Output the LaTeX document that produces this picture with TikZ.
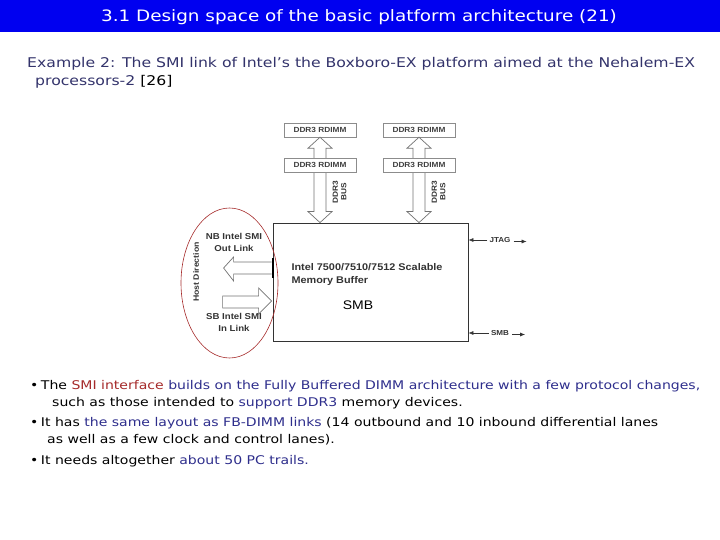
\documentclass[tikz,border=0pt]{standalone}
\usepackage{fontspec}
\setmainfont{DejaVu Sans}[FakeStretch=1.17]
\newfontfamily\arialfont{Liberation Sans}[FakeStretch=1.12]
\usepackage{xcolor}
\usepackage{tikz}
\usetikzlibrary{arrows.meta, positioning, calc}
\definecolor{titleblue}{HTML}{0000F0}
\definecolor{navytext}{HTML}{33336B}
\definecolor{linkblue}{HTML}{2E2E8C}
\definecolor{smired}{HTML}{A52A2A}
\definecolor{boxgray}{HTML}{8C8C8C}

\begin{document}
\begin{tikzpicture}[x=1pt, y=-1pt,
    dimm/.style={draw=boxgray, fill=white, minimum width=72pt, minimum height=14pt, inner sep=0pt,
        font=\arialfont\fontsize{7.4}{8}\selectfont\bfseries, text=black!75},
    hollow/.style={draw=black!55, fill=white, line width=0.7pt, line join=miter},
    diag/.style={font=\arialfont\fontsize{8.6}{12}\selectfont\bfseries, text=black!80, align=center},
    small/.style={font=\arialfont\fontsize{7.2}{8.5}\selectfont\bfseries, text=black!80, align=center},
    sig/.style={-{Latex[length=5pt, width=4pt]}, line width=0.6pt, black!80},
    body/.style={font=\fontsize{12}{14}\selectfont, anchor=west, inner sep=0pt},
]
\useasboundingbox (0,0) rectangle (720,540);

% Title bar
\fill[titleblue] (0,0) rectangle (720,32);
\node[text=white, font=\fontsize{15.7}{18}\selectfont] (title) at (359,17) {3.1 Design space of the basic platform architecture (21)};

% Example line
\node[anchor=west, inner sep=0pt, text=navytext, font=\fontsize{13.4}{18}\selectfont, align=left] (example) at (27,73)
    {Example 2: The SMI link of Intel’s the Boxboro-EX platform aimed at the Nehalem-EX\\
     \hspace*{8pt}processors-2 \textcolor{black}{[26]}};

% Memory buffer
\node[draw=black!80, line width=0.8pt, minimum width=195pt, minimum height=118pt, inner sep=0pt] (smb) at (370.5,282) {};
\node[diag, anchor=west, align=left, font=\arialfont\fontsize{9.7}{13}\selectfont\bfseries] (smbname) at (288,274)
    {Intel 7500/7510/7512 Scalable\\Memory Buffer};
\node[font=\arialfont\fontsize{12.5}{15}\selectfont] (smblabel) at (358,305) {SMB};

% DIMMs and DDR3 buses
\foreach \col/\x in {a/320, b/419} {
    \node[dimm] (dimm1\col) at (\x,130) {DDR3 RDIMM};
    \draw[hollow] let \p1=(dimm1\col.south), \p2=(smb.north) in
        (\x1,\y1) -- (\x1+12pt,\y1-11pt) -- (\x1+6pt,\y1-11pt) -- (\x1+6pt,\y2+11pt) -- (\x1+12pt,\y2+11pt)
        -- (\x1,\y2) -- (\x1-12pt,\y2+11pt) -- (\x1-6pt,\y2+11pt) -- (\x1-6pt,\y1-11pt) -- (\x1-12pt,\y1-11pt) -- cycle;
    \node[dimm] (dimm2\col) at (\x,165) {DDR3 RDIMM};
    \node[small, rotate=90, font=\arialfont\fontsize{7.4}{8.5}\selectfont\bfseries] (bus\col) at (\x+19.5,192) {DDR3\\BUS};
}

% SMI links
\draw[hollow] ($(smb.west)+(-1,-20)$) -- ++(-38,0) -- ++(0,-5) -- ++(-10,11) -- ++(10,13) -- ++(0,-7) -- ++(38,0);
\draw[line width=2pt] ($(smb.west)+(0,-24)$) -- ($(smb.west)+(0,-4)$);
\draw[hollow] ($(smb.west)+(-1,19)$) -- ++(-13,-13) -- ++(0,8) -- ++(-36,0) -- ++(0,12) -- ++(36,0) -- ++(0,6) -- cycle;
\node[diag] (nblink) at (234,242) {NB Intel SMI\\Out Link};
\node[diag] (sblink) at (234,322) {SB Intel SMI\\In Link};
\node[small, rotate=90, font=\arialfont\fontsize{7.8}{9}\selectfont\bfseries] (hostdir) at (196,272) {Host Direction};
\draw[smired, line width=0.6pt] (229.5,283) ellipse [x radius=48.5, y radius=75];

% JTAG and SMB signals
\foreach \nm/\y in {JTAG/240, SMB/333} {
    \node[small, inner sep=2pt] (sig\nm) at (500,\y) {\nm};
    \coordinate (in\nm) at (smb.east |- sig\nm);
    \draw[sig] (sig\nm.west) -- (in\nm);
    \draw[sig] ($(sig\nm.east)+(1,1.5)$) -- ++(13,0);
}

% Bullets
\node[body] (bul1) at (30,386) {•\hspace{2.5pt}The \textcolor{smired}{SMI interface} \textcolor{linkblue}{builds on the Fully Buffered DIMM architecture with a few protocol changes,}};
\node[body] (bul1b) at (52,403) {such as those intended to \textcolor{linkblue}{support DDR3} memory devices.};
\node[body] (bul2) at (30,423) {•\hspace{2.5pt}It has \textcolor{linkblue}{the same layout as FB-DIMM links} (14 outbound and 10 inbound differential lanes};
\node[body] (bul2b) at (47,440) {as well as a few clock and control lanes).};
\node[body] (bul3) at (30,461) {•\hspace{2.5pt}It needs altogether \textcolor{linkblue}{about 50 PC trails.}};
\end{tikzpicture}
\end{document}
